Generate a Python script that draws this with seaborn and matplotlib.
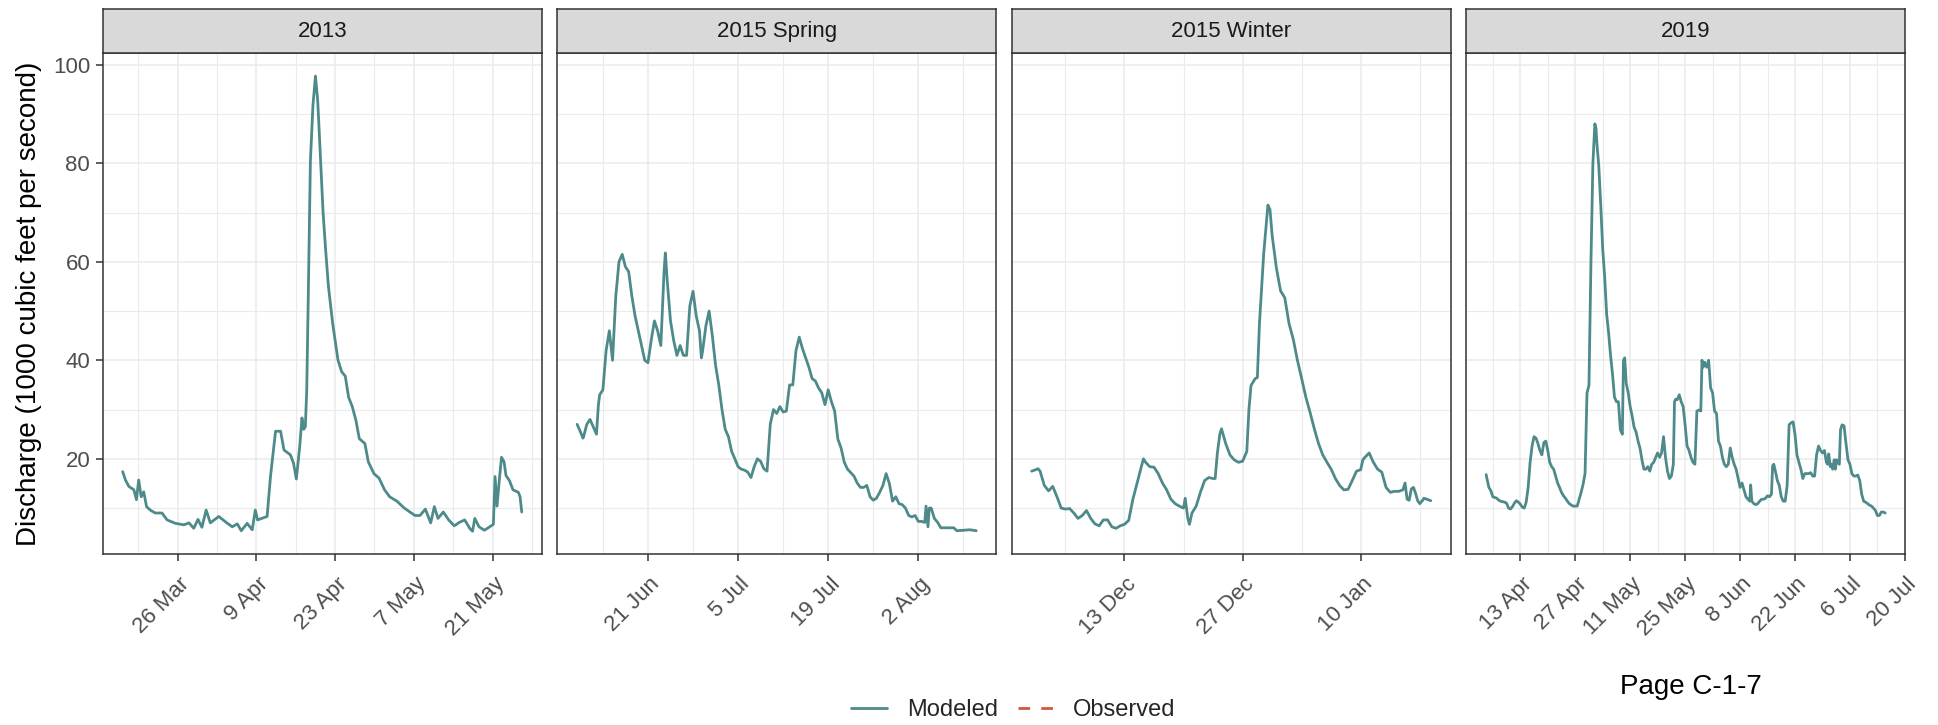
import pandas as pd
import seaborn as sns
import matplotlib.pyplot as plt
import matplotlib.dates as mdates
from matplotlib.lines import Line2D
from matplotlib.ticker import FixedLocator, FuncFormatter
from matplotlib.transforms import ScaledTranslation

# ---- data (days after the panel start date, discharge) ----
PANELS = ["2013", "2015 Spring", "2015 Winter", "2019"]
STARTS = ["2013-03-16", "2015-06-10", "2015-12-02", "2019-04-04"]

days_2013 = [0.2, 0.7, 1.3, 2.2, 2.65, 3.05, 3.5, 3.95, 4.45, 5.1,
             6.0, 7.2, 8.1, 9.6, 11.1, 12.0, 12.85, 13.6, 14.3, 15.05,
             15.8, 17.3, 18.5, 19.7, 20.6, 21.3, 22.35, 23.25, 23.8, 24.2,
             25.9, 26.5, 27.4, 28.3, 28.9, 30.05, 30.6, 31.1, 31.7, 32.1,
             32.4, 32.7, 32.95, 33.25, 33.6, 34.05, 34.5, 34.9, 35.3, 35.85,
             36.3, 36.8, 37.55, 38.5, 39.15, 39.8, 40.4, 41.05, 41.7, 42.3,
             43.3, 43.9, 44.9, 45.8, 46.8, 47.7, 49.0, 50.3, 52.2, 53.1,
             54.05, 55.0, 55.65, 56.3, 57.25, 58.2, 59.2, 60.1, 61.05, 62.0,
             62.45, 62.85, 63.6, 64.55, 65.5, 66.15, 66.45, 66.8, 67.2, 67.6,
             68.05, 68.4, 69.0, 69.65, 70.6, 70.9, 71.2]
q_2013 = [17.4, 15.7, 14.4, 13.7, 11.7, 15.7, 12.3, 13.3, 10.3, 9.6,
          9.0, 9.0, 7.6, 6.9, 6.6, 7.0, 5.9, 7.7, 6.1, 9.6,
          7.0, 8.3, 7.2, 6.2, 6.8, 5.4, 6.9, 5.6, 9.6, 7.6,
          8.3, 16.4, 25.6, 25.6, 21.8, 20.8, 19.1, 15.9, 22.5, 28.3,
          26.0, 26.5, 34.0, 55.0, 80.4, 91.7, 97.7, 92.7, 83.3, 70.1,
          62.6, 55.1, 47.6, 40.1, 37.7, 36.8, 32.5, 30.6, 27.8, 24.1,
          23.1, 19.4, 17.0, 16.1, 13.7, 12.3, 11.4, 10.0, 8.5, 8.5,
          9.8, 7.0, 10.3, 7.9, 9.2, 7.6, 6.4, 7.1, 7.6, 5.8,
          5.3, 7.9, 6.2, 5.5, 6.2, 6.7, 16.4, 10.4, 15.6, 20.3,
          19.4, 16.6, 15.6, 13.7, 13.2, 12.3, 9.2]

days_2015s = [0, 0.5, 0.9, 1, 1.5, 2, 2.5, 3, 3.3, 3.5,
              4, 4.5, 5, 5.5, 6, 6.5, 7, 7.5, 8, 8.5,
              9, 9.5, 10, 10.5, 11, 11.5, 12, 12.5, 13, 13.5,
              13.7, 14, 14.5, 15, 15.5, 16, 16.5, 17, 17.5, 18,
              18.5, 19, 19.3, 19.5, 20, 20.5, 21, 21.5, 22, 22.5,
              23, 23.5, 24, 24.5, 25, 25.5, 26, 26.5, 27, 27.5,
              28, 28.5, 29, 29.5, 30, 30.5, 31, 31.5, 32, 32.5,
              33, 33.5, 34, 34.5, 35, 35.5, 36, 36.5, 37, 37.5,
              38, 38.5, 39, 39.5, 40, 40.5, 41, 41.5, 42, 42.5,
              43, 43.5, 44, 44.5, 45, 45.5, 46, 46.5, 47, 47.5,
              48, 48.5, 49, 49.5, 50, 50.5, 51, 51.5, 52, 52.5,
              53, 53.5, 54, 54.2, 54.5, 54.7, 55, 55.5, 56, 56.5,
              57, 58, 58.5, 59, 60, 61, 62]
q_2015s = [27, 25.5, 24.2, 24.5, 27, 28, 26.5, 25, 31, 33,
           34, 42, 46, 40, 53, 60, 61.5, 59, 58, 53,
           49, 46, 43, 40, 39.5, 44, 48, 46, 43, 58,
           61.8, 56, 48, 44, 41, 43, 41, 41, 51, 54,
           49, 46, 40.5, 42, 47, 50, 45, 39, 35, 30,
           26, 24.5, 21.5, 20, 18.4, 17.9, 17.7, 17.3, 16.2, 18.4,
           20, 19.5, 18, 17.5, 27, 30, 29.2, 30.6, 29.5, 29.7,
           35, 35, 42, 44.7, 42.4, 40.5, 38.6, 36.3, 35.8, 34.4,
           33.4, 31, 34, 31.6, 29.7, 24, 22.2, 19.3, 17.9, 17.2,
           16.5, 15.1, 14.2, 14.2, 14.6, 12.3, 11.6, 12, 13.2, 14.6,
           17, 15, 11.4, 12.3, 10.9, 10.7, 10, 8.5, 8.2, 8.5,
           7.3, 7.3, 7.1, 10.4, 6.2, 10, 10, 7.9, 7.1, 6,
           6, 6, 6, 5.4, 5.5, 5.6, 5.4]

days_2015w = [0, 0.5, 0.75, 1, 1.5, 2, 2.5, 3, 3.5, 4,
              4.5, 5, 5.5, 6, 6.5, 7, 7.5, 8, 8.5, 9,
              9.5, 10, 10.5, 11, 11.5, 12, 12.5, 13, 13.25, 13.5,
              14, 14.5, 15, 15.5, 16, 16.5, 17, 17.5, 18, 18.2,
              18.5, 18.7, 19, 19.5, 20, 20.5, 21, 21.5, 21.75, 22,
              22.3, 22.5, 23, 23.5, 24, 24.5, 25, 25.5, 25.75, 26,
              26.5, 26.75, 27, 27.5, 28, 28.25, 28.5, 29, 29.5, 30,
              30.5, 31, 31.5, 32, 32.5, 33, 33.5, 34, 34.5, 35,
              35.5, 36, 36.5, 37, 37.5, 38, 38.5, 39, 39.25, 39.5,
              40, 40.5, 41, 41.5, 42, 42.5, 43, 43.5, 44, 44.25,
              44.5, 44.75, 45, 45.25, 45.5, 45.75, 46, 46.3, 46.5, 47,
              47.3]
q_2015w = [17.5, 17.8, 18, 17.5, 14.6, 13.5, 14.4, 12.3, 10, 9.8,
           9.9, 9, 7.9, 8.5, 9.5, 7.9, 6.8, 6.4, 7.6, 7.6,
           6.2, 5.9, 6.4, 6.7, 7.5, 11.8, 15.1, 18.4, 20, 19.3,
           18.4, 18.3, 17, 15.1, 13.7, 11.8, 10.9, 10.4, 10, 12,
           8, 6.7, 9, 10.4, 13.2, 15.6, 16.2, 16, 16, 21,
           25, 26.1, 23.1, 20.8, 19.8, 19.3, 19.5, 21.5, 30, 34.9,
           36.3, 36.5, 47.5, 61.6, 71.5, 70.6, 65.4, 58.8, 54.1, 52.7,
           47.5, 44.3, 40, 36.3, 32.5, 29.4, 26.1, 23.1, 20.8, 19.3,
           17.9, 16, 14.6, 13.7, 13.8, 15.6, 17.5, 17.8, 19.8, 20.3,
           21.2, 19.3, 17.9, 17.3, 14.2, 13.2, 13.4, 13.4, 13.7, 15.1,
           11.8, 11.6, 13.9, 14.2, 13, 11.5, 10.9, 11.5, 12, 11.7,
           11.5]

days_2019 = [0.3, 0.5, 1, 1.5, 2, 3, 3.5, 4, 5, 5.5,
             6, 6.5, 7, 7.5, 8, 8.5, 9, 9.5, 10, 10.5,
             11, 11.5, 12, 12.5, 13, 13.5, 14, 14.5, 15, 15.5,
             16, 16.5, 17, 17.5, 18, 18.5, 19, 19.5, 20, 20.5,
             21, 21.5, 22, 22.5, 23, 23.5, 24, 24.5, 25, 25.5,
             26, 26.5, 27, 27.5, 28, 28.3, 28.5, 29, 29.5, 30,
             30.5, 31, 31.5, 32, 32.5, 33, 33.5, 34, 34.5, 35,
             35.3, 35.6, 36, 36.5, 37, 37.5, 38, 38.5, 39, 39.5,
             40, 40.5, 41, 41.5, 42, 42.5, 43, 43.5, 44, 44.5,
             45, 45.5, 46, 46.5, 47, 47.5, 48, 48.3, 48.6, 49,
             49.5, 50, 50.5, 51, 51.5, 52, 52.5, 53, 53.5, 54,
             54.5, 55, 55.3, 55.6, 56, 56.5, 57, 57.5, 58, 58.5,
             59, 59.5, 60, 60.5, 61, 61.5, 62, 62.5, 63, 63.5,
             64, 64.5, 65, 65.5, 66, 66.5, 67, 67.5, 67.7, 68,
             68.5, 69, 69.5, 70, 70.5, 71, 71.5, 72, 72.5, 73,
             73.3, 73.6, 74, 74.5, 75, 75.5, 76, 76.5, 77, 77.5,
             78, 78.5, 79, 79.5, 80, 80.5, 81, 81.5, 82, 82.5,
             83, 83.5, 84, 84.5, 85, 85.5, 86, 86.5, 87, 87.3,
             87.6, 88, 88.3, 88.6, 89, 89.3, 89.6, 90, 90.3, 90.6,
             91, 91.5, 92, 92.5, 93, 93.5, 94, 94.5, 95, 95.5,
             96, 96.5, 97, 97.5, 98, 98.5, 99, 99.5, 100, 100.5,
             101, 101.5, 102.0]
q_2019 = [16.8, 16, 14.2, 13.5, 12.3, 12, 11.6, 11.4, 11.2, 11,
          10, 9.8, 10.3, 11, 11.5, 11.2, 10.8, 10.2, 10, 11.2,
          14.2, 19.3, 22.6, 24.5, 24.2, 23.1, 21.7, 20.8, 23.3, 23.6,
          21.7, 19.3, 18.4, 17.9, 16.5, 15.1, 14.2, 13.2, 12.5, 12,
          11.4, 10.9, 10.6, 10.4, 10.4, 10.4, 11.8, 13.2, 14.8, 17,
          33.4, 34.9, 59.8, 80, 88, 87, 84.2, 79.5, 71.5, 62.6,
          57, 49.4, 45.6, 41, 37.2, 32.5, 31.6, 31.6, 25.9, 25,
          40, 40.5, 35.3, 33.4, 30.6, 28.7, 26.4, 25.5, 23.6, 22.2,
          19.8, 17.9, 17.9, 18.4, 17.5, 18.9, 19.3, 20.3, 21.2, 20.3,
          21.2, 24.5, 20.3, 17.5, 16, 16.5, 18.9, 31.6, 32.1, 32,
          33, 31.6, 30.6, 26.9, 22.6, 21.7, 20.3, 19.3, 18.9, 29.7,
          29.9, 29.7, 40, 38.6, 39.6, 38.6, 40, 34.4, 33.4, 29.7,
          29.2, 23.6, 22.6, 20.3, 18.9, 18.4, 18.9, 22.2, 20.3, 18.9,
          17.9, 16, 14.2, 15.1, 13.7, 12.3, 11.8, 11.4, 14.7, 11.4,
          10.9, 10.7, 10.9, 11.4, 11.8, 11.8, 12, 12.5, 12.3, 12.8,
          18.6, 18.9, 17.5, 15.6, 14.6, 12.3, 11.4, 11.4, 14.6, 26.9,
          27.3, 27.5, 25, 20.8, 19.3, 17.9, 16, 17, 17, 17,
          17.2, 16.5, 16.5, 20.8, 22.6, 21.7, 21.2, 21.7, 19.3, 18.9,
          21, 18.4, 18.9, 17.9, 19.8, 17.9, 19.8, 19.3, 18.9, 25.9,
          26.9, 26.7, 23.1, 19.8, 18.9, 17, 16.5, 16.5, 16.7, 15.6,
          12.8, 11.4, 11.2, 10.9, 10.6, 10.4, 10, 9.5, 8.5, 8.5,
          9.2, 9.2, 9.0]

DAYS = [days_2013, days_2015s, days_2015w, days_2019]
FLOWS = [q_2013, q_2015s, q_2015w, q_2019]

# x tick labels (two-week breaks) per panel
TICKS = [
    ["2013-03-26", "2013-04-09", "2013-04-23", "2013-05-07", "2013-05-21"],
    ["2015-06-21", "2015-07-05", "2015-07-19", "2015-08-02"],
    ["2015-12-13", "2015-12-27", "2016-01-10"],
    ["2019-04-13", "2019-04-27", "2019-05-11", "2019-05-25", "2019-06-08",
     "2019-06-22", "2019-07-06", "2019-07-20"],
]
Y_MAJOR = [20, 40, 60, 80, 100]
Y_MINOR = [10, 30, 50, 70, 90]
SERIES = ["Modeled", "Observed"]

TEAL = "#4E8A8A"
RED = "#CD5A3C"

frames = []
for name, start, d, q in zip(PANELS, STARTS, DAYS, FLOWS):
    frames.append(pd.DataFrame({
        "panel": name,
        "date": pd.Timestamp(start) + pd.to_timedelta(d, unit="D"),
        "discharge": q,
        "series": "Modeled",
    }))
df = pd.concat(frames, ignore_index=True)

sns.set_style("white")
plt.rcParams["font.family"] = ["Liberation Sans", "DejaVu Sans"]

W, H = 1938, 725
fig = plt.figure(figsize=(W / 100, H / 100), dpi=100)


def box(left, top, width, height):
    return [left / W, 1 - (top + height) / H, width / W, height / H]


lo, hi = df["discharge"].min(), df["discharge"].max()
pad = 0.05 * (hi - lo)
ylim = (lo - pad, hi + pad)

# nudge rotated date labels the way ggplot places them
label_shift = ScaledTranslation(1 / 100, -7 / 100, fig.dpi_scale_trans)

panel_w, gap = 439, 15.5
for i, name in enumerate(PANELS):
    left = 102.7 + i * (panel_w + gap)
    ax = fig.add_axes(box(left, 53.3, panel_w, 500.7))
    sub = df[df["panel"] == name]
    sns.lineplot(data=sub, x="date", y="discharge", ax=ax, color=TEAL,
                 linewidth=2.0, estimator=None, legend=False)
    ax.set_ylim(ylim)
    ax.set_xlabel("")
    ax.set_ylabel("")

    major = mdates.date2num(pd.to_datetime(TICKS[i]))
    minor = [m - 7 for m in major] + [major[-1] + 7]
    ax.xaxis.set_major_locator(FixedLocator(major))
    ax.xaxis.set_minor_locator(FixedLocator(minor))
    ax.xaxis.set_major_formatter(FuncFormatter(
        lambda v, p: f"{mdates.num2date(v).day} {mdates.num2date(v):%b}"))
    ax.set_yticks(Y_MAJOR)
    ax.set_yticks(Y_MINOR, minor=True)

    ax.set_facecolor("white")
    ax.set_axisbelow(True)
    ax.grid(True, which="major", color="#EBEBEB", linewidth=1.1)
    ax.grid(True, which="minor", color="#EBEBEB", linewidth=0.8)
    for sp in ax.spines.values():
        sp.set_visible(True)
        sp.set_color("#333333")
        sp.set_linewidth(1.1)

    ax.tick_params(axis="both", which="major", length=5, width=1.1,
                   color="#333333", labelcolor="#4D4D4D", labelsize=16,
                   pad=4)
    ax.tick_params(axis="both", which="minor", length=0)
    ax.tick_params(axis="x", which="major", bottom=True, pad=4)
    if i == 0:
        ax.tick_params(axis="y", which="major", left=True)
    else:
        ax.tick_params(axis="y", which="both", left=False, labelleft=False)
    for lbl in ax.get_xticklabels():
        lbl.set_rotation(45)
        lbl.set_ha("right")
        lbl.set_va("top")
        lbl.set_rotation_mode("anchor")
        lbl.set_transform(lbl.get_transform() + label_shift)

    strip = fig.add_axes(box(left, 9, panel_w, 44.3))
    strip.set_facecolor("#D9D9D9")
    strip.set_xticks([])
    strip.set_yticks([])
    for sp in strip.spines.values():
        sp.set_visible(True)
        sp.set_color("#333333")
        sp.set_linewidth(1.1)
    strip.text(0.5, 0.5, name, ha="center", va="center", fontsize=16,
               color="#1A1A1A", transform=strip.transAxes)

fig.text(29 / W, 1 - 303.7 / H, "Discharge (1000 cubic feet per second)",
         rotation=90, ha="center", va="center", fontsize=20, color="black")

handles = [
    Line2D([], [], color=TEAL, linewidth=2.0),
    Line2D([], [], color=RED, linewidth=2.0, linestyle=(0, (4.2, 4.0))),
]
fig.legend(handles, SERIES, loc="center", ncol=2, frameon=False,
           bbox_to_anchor=(1013.5 / W, 1 - 710 / H), fontsize=17,
           handlelength=1.53, handletextpad=0.82, columnspacing=0.85)

fig.text(1691 / W, 1 - 686.7 / H, "Page C-1-7", ha="center", va="center",
         fontsize=20, color="black")

fig.savefig("out.png", dpi=100, facecolor="white")
